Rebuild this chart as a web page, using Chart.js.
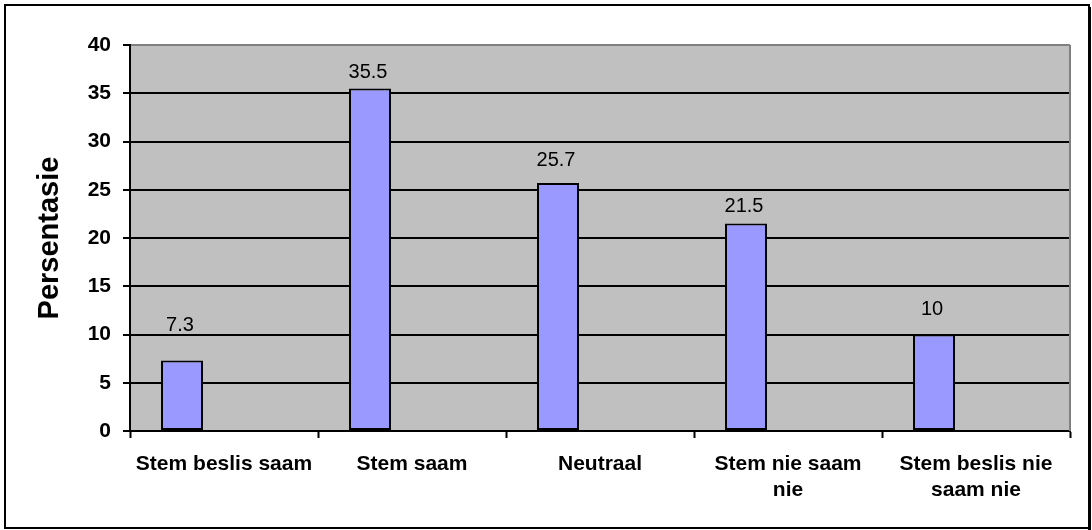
<!DOCTYPE html>
<html>
<head>
<meta charset="utf-8">
<script src="https://cdn.jsdelivr.net/npm/chart.js@4"></script>
<style>
  html, body { margin: 0; padding: 0; background: #fff; }
  #wrap { width: 1092px; height: 530px; }
</style>
</head>
<body>
<div id="wrap"><canvas id="barChart" width="1092" height="530"></canvas></div>
<script>
// Values
const categories = ['Stem beslis saam', 'Stem saam', 'Neutraal', ['Stem nie saam', 'nie'], ['Stem beslis nie', 'saam nie']];
const percentages = [7.3, 35.5, 25.7, 21.5, 10];
// the sheet had two more series left empty, that is why each bar sits to the left of its slot
const emptySeries = [null, null, null, null, null];
const yMin = 0;
const yMax = 40;
const yStep = 5;

// the value labels were nudged by hand in the original, so the gap above each bar differs
const labelGaps = [30, 10, 17, 12, 20];

const fontFamily = '"Liberation Sans", Arial, sans-serif';

// white page, grey plot area, outer frame
const chartFrame = {
    id: 'chartFrame',
    beforeDraw(chart) {
        const { ctx, chartArea: a } = chart;
        ctx.save();
        ctx.fillStyle = '#fff';
        ctx.fillRect(0, 0, chart.width, chart.height);
        ctx.fillStyle = '#c0c0c0';
        ctx.fillRect(a.left, a.top, a.right - a.left, a.bottom - a.top);
        ctx.restore();
    },
    afterDraw(chart) {
        const { ctx, chartArea: a } = chart;
        ctx.save();
        ctx.strokeStyle = '#808080';
        ctx.lineWidth = 2;
        ctx.beginPath();
        ctx.moveTo(a.right, a.top);
        ctx.lineTo(a.right, a.bottom);
        ctx.stroke();

        ctx.strokeStyle = '#000';
        ctx.lineWidth = 2;
        ctx.strokeRect(5, 5, chart.width - 8, chart.height - 7);
        ctx.fillStyle = '#000';
        ctx.fillRect(chart.width - 4, 7, 3, chart.height - 7);
        ctx.restore();
    }
};

// value printed above each bar
const valueLabels = {
    id: 'valueLabels',
    afterDatasetsDraw(chart) {
        const { ctx } = chart;
        const meta = chart.getDatasetMeta(0);
        ctx.save();
        ctx.font = '20px ' + fontFamily;
        ctx.fillStyle = '#000';
        ctx.textAlign = 'center';
        ctx.textBaseline = 'alphabetic';
        meta.data.forEach((bar, i) => {
            ctx.fillText(String(percentages[i]), bar.x - 2, bar.y - labelGaps[i]);
        });
        ctx.restore();
    }
};

const ctx = document.getElementById('barChart').getContext('2d');

new Chart(ctx, {
    type: 'bar',
    data: {
        labels: categories,
        datasets: [
            {
                data: percentages,
                backgroundColor: '#9999ff',
                borderColor: '#000',
                borderWidth: 2,
                borderSkipped: false
            },
            { data: emptySeries },
            { data: emptySeries }
        ]
    },
    options: {
        responsive: false,
        animation: false,
        categoryPercentage: 0.67,
        barPercentage: 1,
        layout: {
            padding: { top: 45, right: 22, left: 0, bottom: 0 }
        },
        plugins: {
            legend: { display: false },
            tooltip: { enabled: false }
        },
        scales: {
            x: {
                grid: {
                    drawOnChartArea: false,
                    drawTicks: true,
                    tickLength: 7,
                    tickColor: '#000',
                    tickWidth: 2,
                    offset: true
                },
                border: { color: '#000', width: 2 },
                ticks: {
                    color: '#000',
                    autoSkip: false,
                    maxRotation: 0,
                    padding: 13,
                    font: { family: fontFamily, size: 21, weight: 'bold', lineHeight: 1.24 }
                },
                afterFit(scale) { scale.height = 99; }
            },
            y: {
                min: yMin,
                max: yMax,
                grid: {
                    color: c => c.tick && c.tick.value === yMax ? '#808080' : '#000',
                    lineWidth: 2,
                    tickLength: 7,
                    tickColor: '#000',
                    tickWidth: 2
                },
                border: { color: '#000', width: 2 },
                ticks: {
                    stepSize: yStep,
                    color: '#000',
                    padding: 12,
                    font: { family: fontFamily, size: 21, weight: 'bold' }
                },
                title: {
                    display: true,
                    text: 'Persentasie',
                    color: '#000',
                    font: { family: fontFamily, size: 29, weight: 'bold' },
                    padding: { top: 33, bottom: 0 }
                },
                afterFit(scale) { scale.width = 130; }
            }
        }
    },
    plugins: [chartFrame, valueLabels]
});
</script>
</body>
</html>
